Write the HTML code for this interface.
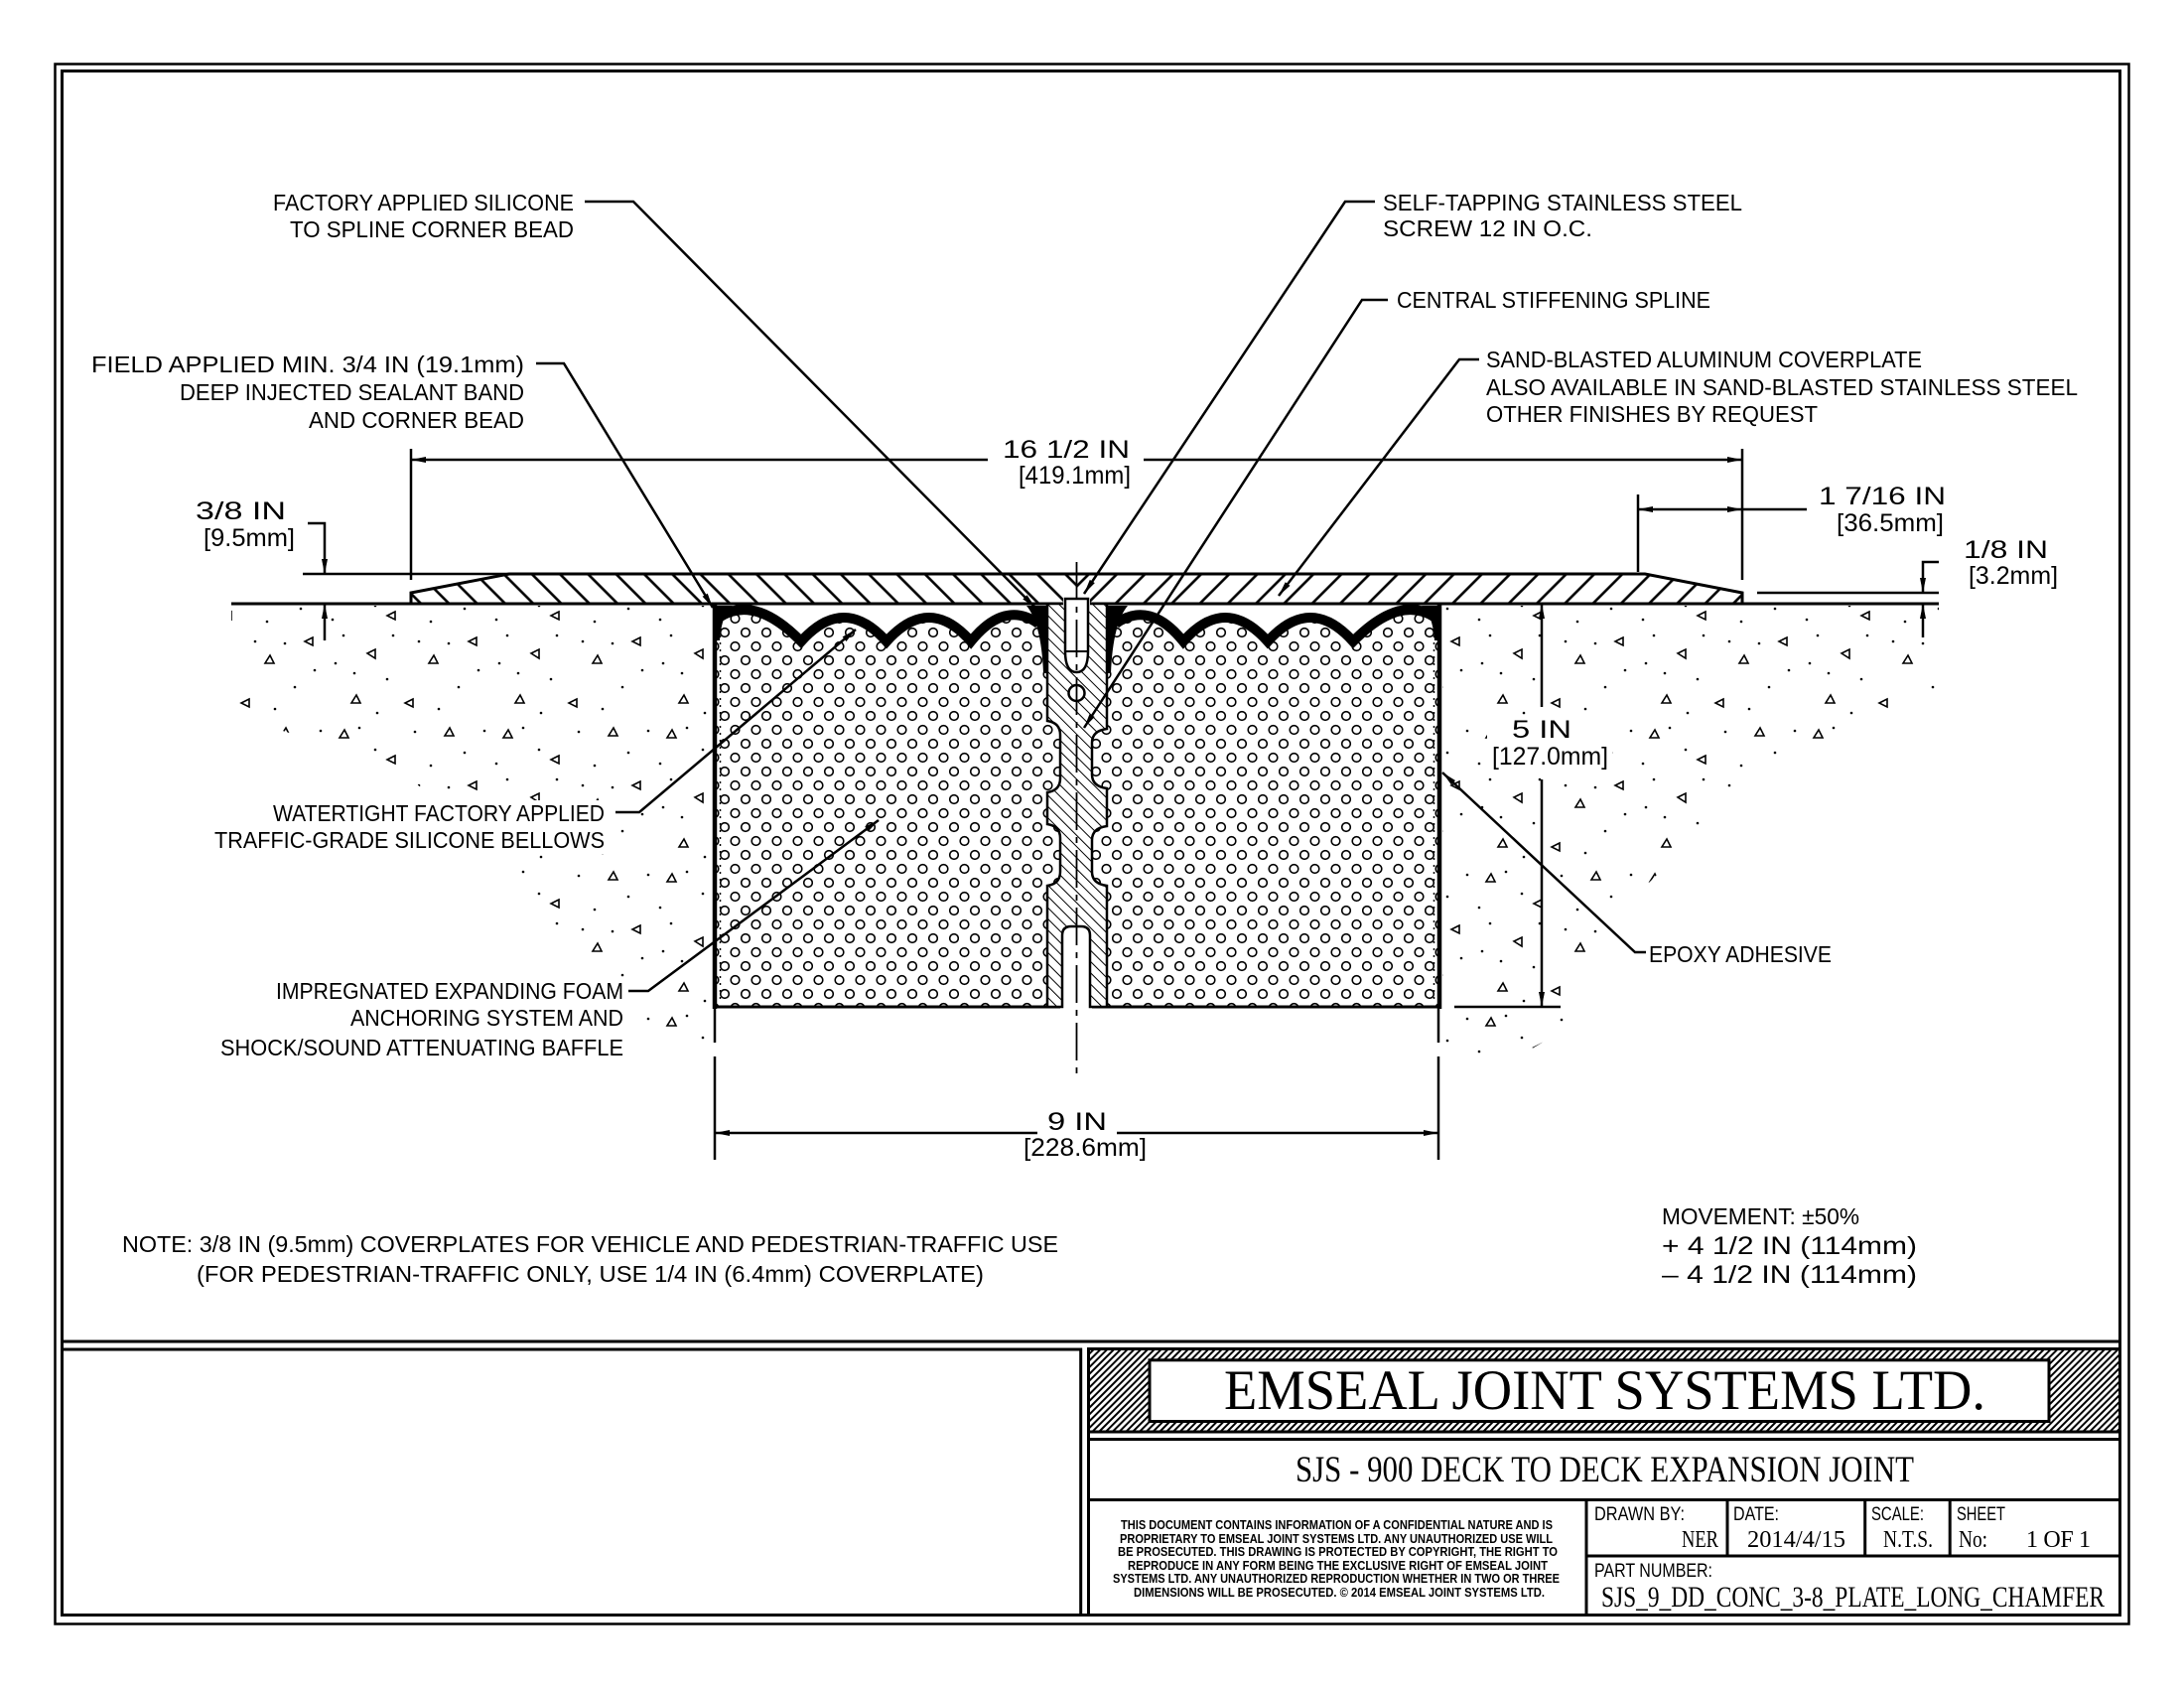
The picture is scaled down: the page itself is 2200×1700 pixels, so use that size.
<!DOCTYPE html>
<html>
<head>
<meta charset="utf-8">
<style>
html,body{margin:0;padding:0;background:#fff;}
svg{display:block;}
.s{font-family:"Liberation Sans",Arial,sans-serif;font-size:23px;fill:#000;}
.n{font-family:"Liberation Sans",Arial,sans-serif;font-size:25px;fill:#000;}
.m{font-family:"Liberation Sans",Arial,sans-serif;font-size:19px;fill:#000;}
.d{font-family:"Liberation Sans",Arial,sans-serif;font-size:12.5px;font-weight:bold;fill:#000;}
.r{font-family:"Liberation Serif","Times New Roman",serif;fill:#000;}
</style>
</head>
<body>
<svg xmlns="http://www.w3.org/2000/svg" xmlns:xlink="http://www.w3.org/1999/xlink" width="2200" height="1700" viewBox="0 0 2200 1700">
<defs>
  <pattern id="foam" patternUnits="userSpaceOnUse" width="21" height="28">
    <circle cx="5.5" cy="7" r="4.3" fill="none" stroke="#000" stroke-width="1.6"/>
    <circle cx="16" cy="21" r="4.3" fill="none" stroke="#000" stroke-width="1.6"/>
  </pattern>
  <pattern id="h1" patternUnits="userSpaceOnUse" width="20" height="20" patternTransform="rotate(-45)">
    <line x1="10" y1="-1" x2="10" y2="21" stroke="#000" stroke-width="2.6"/>
  </pattern>
  <pattern id="h2" patternUnits="userSpaceOnUse" width="8" height="8" patternTransform="rotate(-45)">
    <line x1="4" y1="-1" x2="4" y2="9" stroke="#000" stroke-width="1"/>
  </pattern>
  <pattern id="h3" patternUnits="userSpaceOnUse" width="4.8" height="4.8" patternTransform="rotate(45)">
    <line x1="2.4" y1="-1" x2="2.4" y2="6" stroke="#000" stroke-width="2"/>
  </pattern>
  <pattern id="conc" patternUnits="userSpaceOnUse" width="165" height="145">
    <g fill="none" stroke="#000" stroke-width="1.6">
      <path d="M12,18 l9,0 l-4,-8 z"/>
      <path d="M68,36 l-8,4 l8,4 z"/>
      <path d="M118,16 l9,0 l-4,-8 z"/>
      <path d="M40,78 l8,-4 l0,9 z"/>
      <path d="M102,88 l9,0 l-4,-8 z"/>
      <path d="M150,62 l-8,4 l8,4 z"/>
      <path d="M24,128 l9,0 l-4,-8 z"/>
      <path d="M86,124 l-8,4 l8,4 z"/>
    </g>
    <g fill="#000">
      <circle cx="5" cy="44" r="1.3"/><circle cx="32" cy="8" r="1.3"/><circle cx="48" cy="30" r="1.3"/>
      <circle cx="88" cy="12" r="1.3"/><circle cx="104" cy="46" r="1.3"/><circle cx="138" cy="33" r="1.3"/>
      <circle cx="158" cy="11" r="1.3"/><circle cx="16" cy="60" r="1.3"/><circle cx="66" cy="60" r="1.3"/>
      <circle cx="122" cy="68" r="1.3"/><circle cx="152" cy="95" r="1.3"/><circle cx="27" cy="98" r="1.3"/>
      <circle cx="60" cy="104" r="1.3"/><circle cx="132" cy="112" r="1.3"/>
      <circle cx="112" cy="134" r="1.3"/><circle cx="50" cy="138" r="1.3"/>
      <circle cx="8" cy="88" r="1.3"/><circle cx="92" cy="66" r="1.3"/>
    </g>
  </pattern>
  <marker id="a" markerUnits="userSpaceOnUse" markerWidth="20" markerHeight="10" refX="0" refY="0" orient="auto" overflow="visible">
    <path d="M0,0 L-15,-3 L-15,3 Z" fill="#000"/>
  </marker>
  <g id="half">
    <rect x="720" y="608" width="365" height="406" fill="url(#foam)"/>
    <path d="M717,606 L717,624 L724,622 Q760,598 807,646 Q850,598 893,646 Q936,598 978,646 Q1012,604 1046,628 L1085,628 L1085,606 Z" fill="#fff"/>
    <path d="M724,622 Q760,598 807,646 Q850,598 893,646 Q936,598 978,646 Q1012,604 1046,628" fill="none" stroke="#000" stroke-width="10" stroke-linejoin="miter"/>
    <path d="M720,610 L738,610 Q727,618 725,645 L720,645 Z" fill="#000"/>
    <path d="M1034,610 L1056,610 L1056,678 L1051,678 Q1049,628 1034,610 Z" fill="#000"/>
    <line x1="720" y1="608" x2="720" y2="1016" stroke="#000" stroke-width="4.5"/>
    <line x1="725.5" y1="640" x2="725.5" y2="1010" stroke="#000" stroke-width="1.5" stroke-dasharray="2 5"/>
    <line x1="718" y1="1014" x2="1072" y2="1014" stroke="#000" stroke-width="3"/>
    <path d="M414,608 L414,597 L513,578 L1085,578 L1085,608 Z" fill="url(#h1)"/>
  </g>
</defs>

<rect x="0" y="0" width="2200" height="1700" fill="#fff"/>

<!-- frame -->
<g fill="none" stroke="#000">
  <rect x="55.5" y="64.5" width="2089" height="1571" stroke-width="2.5"/>
  <rect x="62.5" y="71.5" width="2073" height="1555" stroke-width="3"/>
  <line x1="62.5" y1="1351" x2="2135.5" y2="1351" stroke-width="3"/>
  <path d="M62.5,1359 H1088.7 V1626.5" stroke-width="3"/>
</g>

<!-- title block -->
<rect x="1096.5" y="1358.5" width="1039" height="83.5" fill="url(#h3)"/>
<g fill="none" stroke="#000" stroke-width="3">
  <rect x="1096.5" y="1358.5" width="1039" height="268"/>
  <rect x="1158" y="1369.8" width="906" height="61.7" fill="#fff"/>
  <line x1="1096.5" y1="1442" x2="2135.5" y2="1442"/>
  <line x1="1096.5" y1="1449.5" x2="2135.5" y2="1449.5"/>
  <line x1="1096.5" y1="1510.5" x2="2135.5" y2="1510.5"/>
  <line x1="1598" y1="1567" x2="2135.5" y2="1567"/>
  <line x1="1598" y1="1510.5" x2="1598" y2="1626.5"/>
  <line x1="1740" y1="1510.5" x2="1740" y2="1567"/>
  <line x1="1878.7" y1="1510.5" x2="1878.7" y2="1567"/>
  <line x1="1964.2" y1="1510.5" x2="1964.2" y2="1567"/>
</g>
<text class="r" x="1233" y="1419" font-size="57" textLength="767" lengthAdjust="spacingAndGlyphs">EMSEAL JOINT SYSTEMS LTD.</text>
<text class="r" x="1305" y="1492" font-size="37" textLength="623" lengthAdjust="spacingAndGlyphs">SJS - 900 DECK TO DECK EXPANSION JOINT</text>
<text class="d" x="1129" y="1540" textLength="435" lengthAdjust="spacingAndGlyphs">THIS DOCUMENT CONTAINS INFORMATION OF A CONFIDENTIAL NATURE AND IS</text>
<text class="d" x="1128" y="1554" textLength="436" lengthAdjust="spacingAndGlyphs">PROPRIETARY TO EMSEAL JOINT SYSTEMS LTD. ANY UNAUTHORIZED USE WILL</text>
<text class="d" x="1126" y="1567" textLength="443" lengthAdjust="spacingAndGlyphs">BE PROSECUTED. THIS DRAWING IS PROTECTED BY COPYRIGHT, THE RIGHT TO</text>
<text class="d" x="1136" y="1581" textLength="423" lengthAdjust="spacingAndGlyphs">REPRODUCE IN ANY FORM BEING THE EXCLUSIVE RIGHT OF EMSEAL JOINT</text>
<text class="d" x="1121" y="1594" textLength="450" lengthAdjust="spacingAndGlyphs">SYSTEMS LTD. ANY UNAUTHORIZED REPRODUCTION WHETHER IN TWO OR THREE</text>
<text class="d" x="1142" y="1608" textLength="414" lengthAdjust="spacingAndGlyphs">DIMENSIONS WILL BE PROSECUTED. © 2014 EMSEAL JOINT SYSTEMS LTD.</text>
<text class="m" x="1606" y="1531" textLength="91" lengthAdjust="spacingAndGlyphs">DRAWN BY:</text>
<text class="r" x="1694" y="1558" font-size="24" textLength="37" lengthAdjust="spacingAndGlyphs">NER</text>
<text class="m" x="1746" y="1531" textLength="46" lengthAdjust="spacingAndGlyphs">DATE:</text>
<text class="r" x="1760" y="1558" font-size="24" textLength="99" lengthAdjust="spacingAndGlyphs">2014/4/15</text>
<text class="m" x="1885" y="1531" textLength="53" lengthAdjust="spacingAndGlyphs">SCALE:</text>
<text class="r" x="1897" y="1558" font-size="24" textLength="50" lengthAdjust="spacingAndGlyphs">N.T.S.</text>
<text class="m" x="1971" y="1531" textLength="49" lengthAdjust="spacingAndGlyphs">SHEET</text>
<text class="r" x="1973" y="1558" font-size="24" textLength="29" lengthAdjust="spacingAndGlyphs">No:</text>
<text class="r" x="2041" y="1558" font-size="24" textLength="65" lengthAdjust="spacing">1 OF 1</text>
<text class="m" x="1606" y="1588" textLength="119" lengthAdjust="spacingAndGlyphs">PART NUMBER:</text>
<text class="r" x="1613" y="1618" font-size="30" textLength="507" lengthAdjust="spacingAndGlyphs">SJS_9_DD_CONC_3-8_PLATE_LONG_CHAMFER</text>

<!-- concrete stipple -->
<path d="M233,610 L717,610 L717,1060 L640,1030 L560,960 L500,850 L420,790 L330,750 L233,720 Z" fill="url(#conc)"/>
<path d="M1453,610 L1953,610 L1953,690 L1880,740 L1800,760 L1720,830 L1650,900 L1600,960 L1570,1040 L1520,1070 L1453,1070 Z" fill="url(#conc)"/>
<!-- text masks over stipple -->
<rect x="1498" y="722" width="126" height="54" fill="#fff"/>
<rect x="212" y="806" width="400" height="54" fill="#fff"/>
<rect x="218" y="985" width="413" height="84" fill="#fff"/>

<!-- joint halves -->
<use xlink:href="#half" href="#half"/>
<use xlink:href="#half" href="#half" transform="matrix(-1,0,0,1,2170,0)"/>

<!-- coverplate outline and ground -->
<path d="M414,608 L414,597 L513,578 L1657,578 L1755,597 L1755,608" fill="none" stroke="#000" stroke-width="3" stroke-linejoin="miter"/>
<line x1="233" y1="608" x2="1953" y2="608" stroke="#000" stroke-width="3"/>

<!-- spline -->
<rect x="1068" y="930" width="32" height="86" fill="#fff"/>
<path d="M1055,608 L1055,726 Q1068,728 1068,740 L1068,784 Q1068,796 1055,798 L1055,830 Q1068,832 1068,844 L1068,878 Q1068,890 1055,892 L1055,1014 L1070,1014 L1070,942 Q1070,933 1079,933 L1089,933 Q1098,933 1098,942 L1098,1014 L1115,1014 L1115,892 Q1100,890 1100,878 L1100,846 Q1100,834 1115,832 L1115,794 Q1100,792 1100,780 L1100,748 Q1100,736 1115,734 L1115,608 Z" fill="#fff"/>
<path d="M1055,608 L1055,726 Q1068,728 1068,740 L1068,784 Q1068,796 1055,798 L1055,830 Q1068,832 1068,844 L1068,878 Q1068,890 1055,892 L1055,1014 L1070,1014 L1070,942 Q1070,933 1079,933 L1089,933 Q1098,933 1098,942 L1098,1014 L1115,1014 L1115,892 Q1100,890 1100,878 L1100,846 Q1100,834 1115,832 L1115,794 Q1100,792 1100,780 L1100,748 Q1100,736 1115,734 L1115,608 Z" fill="url(#h2)" stroke="#000" stroke-width="2.5"/>

<!-- screw -->
<rect x="1071" y="600" width="27" height="12" fill="#fff"/>
<path d="M1073,603 L1073,656 Q1073,677 1084.5,677 Q1096,677 1096,656 L1096,603 Z" fill="#fff" stroke="#000" stroke-width="2.5"/>
<line x1="1074" y1="656" x2="1095" y2="656" stroke="#000" stroke-width="2"/>
<circle cx="1084.5" cy="698" r="8" fill="#fff" stroke="#000" stroke-width="2.5"/>

<!-- centerline -->
<line x1="1084.5" y1="566" x2="1084.5" y2="1082" stroke="#000" stroke-width="1.8" stroke-dasharray="38 7 6 7"/>

<!-- dimensions -->
<g stroke="#000" stroke-width="2.5" fill="none">
  <line x1="995" y1="463" x2="414" y2="463" marker-end="url(#a)"/>
  <line x1="1152" y1="463" x2="1755" y2="463" marker-end="url(#a)"/>
  <line x1="414" y1="452" x2="414" y2="584"/>
  <line x1="1755" y1="452" x2="1755" y2="584"/>

  <line x1="1700" y1="513" x2="1650" y2="513" marker-end="url(#a)"/>
  <line x1="1700" y1="513" x2="1755" y2="513" marker-end="url(#a)"/>
  <line x1="1755" y1="513" x2="1820" y2="513"/>
  <line x1="1650" y1="498" x2="1650" y2="576"/>

  <polyline points="310,527 327,527 327,578" marker-end="url(#a)"/>
  <line x1="327" y1="645" x2="327" y2="608" marker-end="url(#a)"/>
  <line x1="305" y1="578" x2="513" y2="578"/>

  <polyline points="1953,566 1937,566 1937,597" marker-end="url(#a)"/>
  <line x1="1937" y1="642" x2="1937" y2="608" marker-end="url(#a)"/>
  <line x1="1770" y1="597" x2="1953" y2="597"/>

  <line x1="1553" y1="712" x2="1553" y2="608" marker-end="url(#a)"/>
  <line x1="1553" y1="785" x2="1553" y2="1014" marker-end="url(#a)"/>
  <line x1="1465" y1="1014" x2="1572" y2="1014"/>

  <line x1="1045" y1="1141" x2="720" y2="1141" marker-end="url(#a)"/>
  <line x1="1125" y1="1141" x2="1449" y2="1141" marker-end="url(#a)"/>
  <line x1="720" y1="1016" x2="720" y2="1050"/>
  <line x1="720" y1="1064" x2="720" y2="1168"/>
  <line x1="1449" y1="1016" x2="1449" y2="1050"/>
  <line x1="1449" y1="1064" x2="1449" y2="1168"/>
</g>

<!-- leaders -->
<g stroke="#000" stroke-width="2.5" fill="none">
  <polyline points="589,203 638,203 1043,612" marker-end="url(#a)"/>
  <polyline points="540,366 568,366 718,612" marker-end="url(#a)"/>
  <polyline points="1385,203 1355,203 1092,598" marker-end="url(#a)"/>
  <polyline points="1398,302 1372,302 1092,733" marker-end="url(#a)"/>
  <polyline points="1490,362 1470,362 1288,600" marker-end="url(#a)"/>
  <polyline points="620,818 644,818 862,634" marker-end="url(#a)"/>
  <polyline points="633,998 653,998 885,826" marker-end="url(#a)"/>
  <polyline points="1658,959 1647,959 1453,778" marker-end="url(#a)"/>
</g>

<!-- labels -->
<text class="s" x="275" y="212" textLength="303" lengthAdjust="spacingAndGlyphs">FACTORY APPLIED SILICONE</text>
<text class="s" x="292" y="239" textLength="286" lengthAdjust="spacingAndGlyphs">TO SPLINE CORNER BEAD</text>
<text class="s" x="92" y="375" textLength="436" lengthAdjust="spacingAndGlyphs">FIELD APPLIED MIN. 3/4 IN (19.1mm)</text>
<text class="s" x="181" y="403" textLength="347" lengthAdjust="spacingAndGlyphs">DEEP INJECTED SEALANT BAND</text>
<text class="s" x="311" y="431" textLength="217" lengthAdjust="spacingAndGlyphs">AND CORNER BEAD</text>
<text class="s" x="1393" y="212" textLength="362" lengthAdjust="spacingAndGlyphs">SELF-TAPPING STAINLESS STEEL</text>
<text class="s" x="1393" y="238" textLength="211" lengthAdjust="spacingAndGlyphs">SCREW 12 IN O.C.</text>
<text class="s" x="1407" y="310" textLength="316" lengthAdjust="spacingAndGlyphs">CENTRAL STIFFENING SPLINE</text>
<text class="s" x="1497" y="370" textLength="439" lengthAdjust="spacingAndGlyphs">SAND-BLASTED ALUMINUM COVERPLATE</text>
<text class="s" x="1497" y="398" textLength="596" lengthAdjust="spacingAndGlyphs">ALSO AVAILABLE IN SAND-BLASTED STAINLESS STEEL</text>
<text class="s" x="1497" y="425" textLength="334" lengthAdjust="spacingAndGlyphs">OTHER FINISHES BY REQUEST</text>

<text class="n" x="1010" y="461" textLength="128" lengthAdjust="spacingAndGlyphs">16 1/2 IN</text>
<text class="n" x="1026" y="487" textLength="113" lengthAdjust="spacingAndGlyphs">[419.1mm]</text>
<text class="n" x="197" y="523" textLength="91" lengthAdjust="spacingAndGlyphs">3/8 IN</text>
<text class="n" x="205" y="550" textLength="92" lengthAdjust="spacingAndGlyphs">[9.5mm]</text>
<text class="n" x="1832" y="508" textLength="128" lengthAdjust="spacingAndGlyphs">1 7/16 IN</text>
<text class="n" x="1850" y="535" textLength="108" lengthAdjust="spacingAndGlyphs">[36.5mm]</text>
<text class="n" x="1978" y="562" textLength="85" lengthAdjust="spacingAndGlyphs">1/8 IN</text>
<text class="n" x="1983" y="588" textLength="90" lengthAdjust="spacingAndGlyphs">[3.2mm]</text>
<text class="n" x="1523" y="743" textLength="60" lengthAdjust="spacingAndGlyphs">5 IN</text>
<text class="n" x="1503" y="770" textLength="117" lengthAdjust="spacingAndGlyphs">[127.0mm]</text>
<text class="n" x="1055" y="1138" textLength="60" lengthAdjust="spacingAndGlyphs">9 IN</text>
<text class="n" x="1031" y="1164" textLength="124" lengthAdjust="spacingAndGlyphs">[228.6mm]</text>

<text class="s" x="275" y="827" textLength="334" lengthAdjust="spacingAndGlyphs">WATERTIGHT FACTORY APPLIED</text>
<text class="s" x="216" y="854" textLength="393" lengthAdjust="spacingAndGlyphs">TRAFFIC-GRADE SILICONE BELLOWS</text>
<text class="s" x="278" y="1006" textLength="350" lengthAdjust="spacingAndGlyphs">IMPREGNATED EXPANDING FOAM</text>
<text class="s" x="353" y="1033" textLength="275" lengthAdjust="spacingAndGlyphs">ANCHORING SYSTEM AND</text>
<text class="s" x="222" y="1063" textLength="406" lengthAdjust="spacingAndGlyphs">SHOCK/SOUND ATTENUATING BAFFLE</text>
<text class="s" x="1661" y="969" textLength="184" lengthAdjust="spacingAndGlyphs">EPOXY ADHESIVE</text>

<text class="s" x="123" y="1261" textLength="943" lengthAdjust="spacingAndGlyphs">NOTE: 3/8 IN (9.5mm) COVERPLATES FOR VEHICLE AND PEDESTRIAN-TRAFFIC USE</text>
<text class="s" x="198" y="1291" textLength="793" lengthAdjust="spacingAndGlyphs">(FOR PEDESTRIAN-TRAFFIC ONLY, USE 1/4 IN (6.4mm) COVERPLATE)</text>
<text class="s" x="1674" y="1233" textLength="199" lengthAdjust="spacingAndGlyphs">MOVEMENT: ±50%</text>
<text class="n" x="1674" y="1263" textLength="257" lengthAdjust="spacingAndGlyphs">+ 4 1/2 IN (114mm)</text>
<text class="n" x="1674" y="1292" textLength="257" lengthAdjust="spacingAndGlyphs">– 4 1/2 IN (114mm)</text>
</svg>
</body>
</html>
